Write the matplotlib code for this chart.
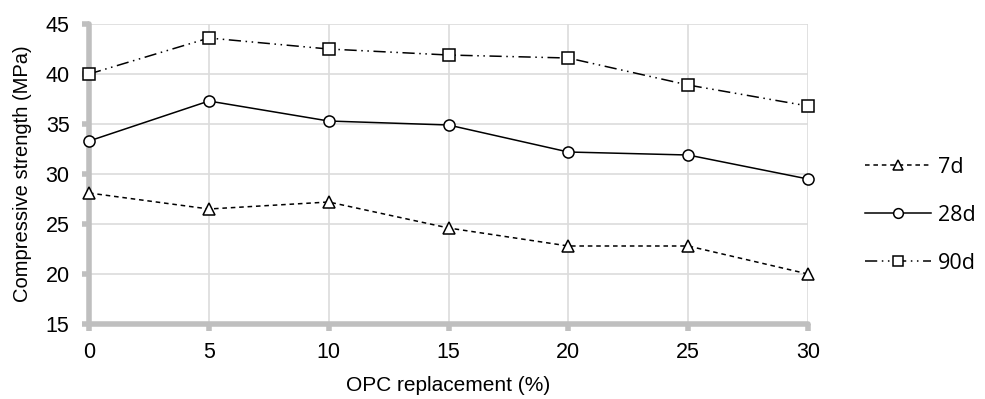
import matplotlib.pyplot as plt

# --- data ---
replacement = [0, 5, 10, 15, 20, 25, 30]
strength_7d = [28.1, 26.5, 27.2, 24.6, 22.8, 22.8, 20.0]
strength_28d = [33.3, 37.3, 35.3, 34.9, 32.2, 31.9, 29.5]
strength_90d = [40.0, 43.6, 42.5, 41.9, 41.6, 38.9, 36.8]
y_ticks = [15, 20, 25, 30, 35, 40, 45]

plt.rcParams['font.family'] = ['Liberation Sans', 'DejaVu Sans']

fig = plt.figure(figsize=(9.85, 3.99), dpi=100)
ax = fig.add_axes([0.0904, 0.188, 0.7299, 0.7518])

mk = dict(markerfacecolor='white', markeredgecolor='black', markersize=8,
          markeredgewidth=1.1, color='black', lw=1.1, clip_on=False, zorder=5)
ax.plot(replacement, strength_7d, marker='^', linestyle=(0, (3, 2.5)),
        label='7d', **mk)
ax.plot(replacement, strength_28d, marker='o', linestyle='-', label='28d', **mk)
ax.plot(replacement, strength_90d, marker='s', linestyle=(0, (8, 3, 1, 3, 1, 3)),
        label='90d', **mk)

ax.set_xlim(0, 30)
ax.set_ylim(15, 45)
ax.set_xticks(replacement)
ax.set_yticks(y_ticks)
ax.grid(True, color='#dcdcdc', lw=1.2)
ax.set_axisbelow(True)

for side in ['top', 'right']:
    ax.spines[side].set_visible(False)
for side in ['left', 'bottom']:
    ax.spines[side].set_color('#bfbfbf')
    ax.spines[side].set_linewidth(4)
    ax.spines[side].set_capstyle('round')
ax.tick_params(axis='both', color='#bfbfbf', width=4, length=5, labelsize=15.5)
ax.tick_params(axis='x', pad=8)
ax.tick_params(axis='y', pad=9)
for t in ax.xaxis.get_ticklines() + ax.yaxis.get_ticklines():
    t.set_solid_capstyle('round')

ax.set_xlabel('OPC replacement (%)', fontsize=15, labelpad=9)
ax.set_ylabel('Compressive strength (MPa)', fontsize=14.5, labelpad=10)

leg = ax.legend(loc='center left', bbox_to_anchor=(1.052, 0.363), frameon=False,
                handlelength=3.1, labelspacing=1.25, handletextpad=0.3,
                prop={'family': ['Open Sans', 'DejaVu Sans'], 'size': 15.5})
for h in leg.legend_handles:
    h.set_markersize(7)

fig.savefig('out.png', dpi=100)
